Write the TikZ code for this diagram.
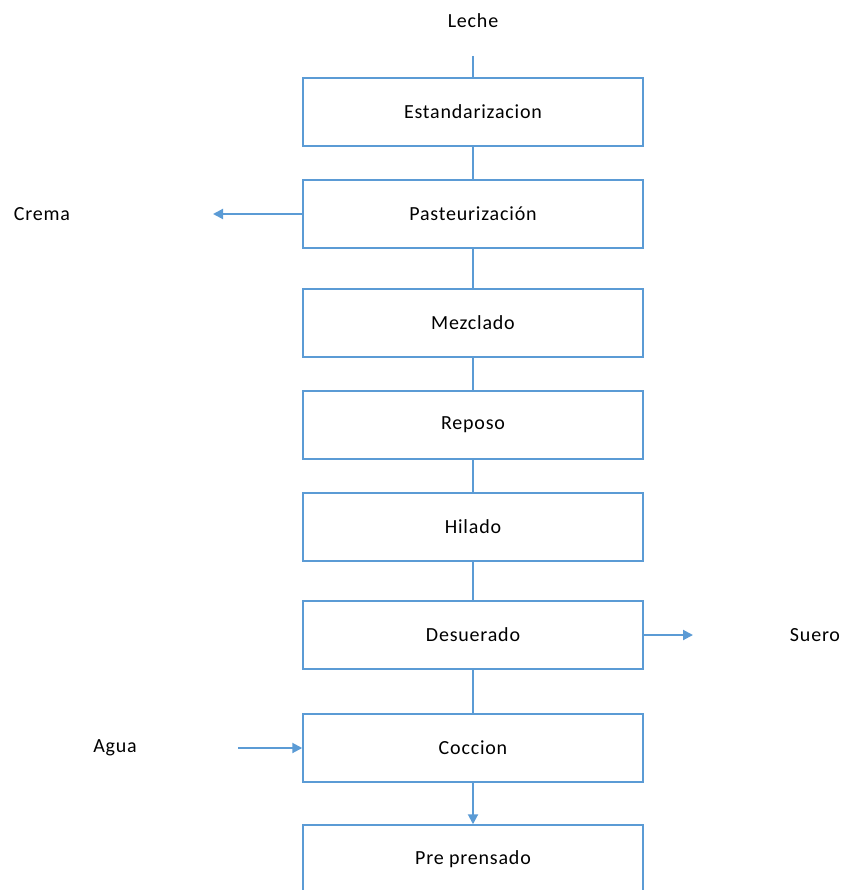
\documentclass[tikz,border=0pt]{standalone}
\usepackage{fontspec}
\setmainfont{Carlito}[LetterSpace=4]
\usetikzlibrary{positioning}
\usetikzlibrary{arrows.meta}
\definecolor{azul}{HTML}{5B9BD5}

\tikzset{
    etapa/.style={draw=azul, line width=1.5pt, minimum width=340pt, minimum height=68pt, inner sep=0pt, font=\fontsize{20}{24}\selectfont},
    texto/.style={font=\fontsize{20}{24}\selectfont},
    flujo/.style={draw=azul, line width=2pt},
    flecha/.style={flujo, -{Triangle[length=10pt,width=10pt]}}
}

\begin{document}
\begin{tikzpicture}[x=1pt,y=-1pt]
    \clip (0,0) rectangle (846,890);
    \useasboundingbox (0,0) rectangle (846,890);

    % Etapas del proceso
    \node[etapa] (estand) at (473,112) {Estandarizacion};
    \node[etapa] (pasteur) at (473,214) {Pasteurización};
    \node[etapa] (mezcla) at (473,323) {Mezclado};
    \node[etapa] (reposo) at (473,425) {Reposo};
    \node[etapa] (hilado) at (473,527) {Hilado};
    \node[etapa] (desuer) at (473,635) {Desuerado};
    \node[etapa] (coccion) at (473,748) {Coccion};
    \node[etapa] (prens) at (473,859) {Pre prensado};

    % Entradas y salidas
    \node[texto] (leche) at (473,21) {Leche};
    \node[texto] (crema) at (42,214) {Crema};
    \node[texto] (suero) at (815,635) {Suero};
    \node[texto] (agua) at (115,748) {Agua};
    \coordinate (entleche) at (473,56);
    \coordinate (salcrema) at (213,214);
    \coordinate (salsuero) at (693,635);
    \coordinate (entagua) at (238,748);

    % Lineas de flujo
    \draw[flujo] (entleche) -- (estand.north);
    \draw[flujo] (estand) -- (pasteur);
    \draw[flujo] (pasteur) -- (mezcla);
    \draw[flujo] (mezcla) -- (reposo);
    \draw[flujo] (reposo) -- (hilado);
    \draw[flujo] (hilado) -- (desuer);
    \draw[flujo] (desuer) -- (coccion);
    \draw[flecha] (coccion) -- (prens);

    \draw[flecha] (pasteur.west) -- (salcrema);
    \draw[flecha] (desuer.east) -- (salsuero);
    \draw[flecha] (entagua) -- (coccion.west);
\end{tikzpicture}
\end{document}
